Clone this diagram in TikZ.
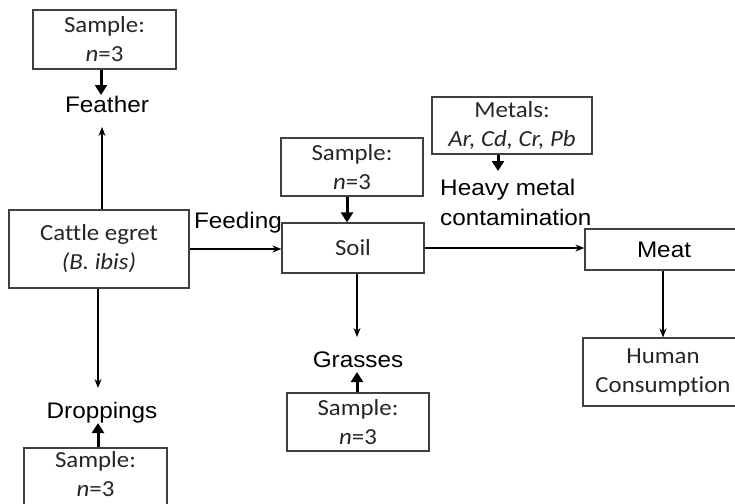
\documentclass[tikz,border=0pt]{standalone}
\usepackage{fontspec}
\setmainfont{Carlito}[FakeStretch=1.08,RawFeature=-liga]
\newfontfamily\arialfont{Liberation Sans}[FakeStretch=1.08]
\usetikzlibrary{arrows.meta}
\begin{document}
\begin{tikzpicture}[x=1pt,y=-1pt,
  box/.style={draw=black!75, line width=1.2pt, align=center, inner sep=0pt, text=black!85, font=\fontsize{23}{29}\selectfont},
  lab/.style={inner sep=0pt, text=black, font=\arialfont\fontsize{22.5}{30}\selectfont},
  thinarr/.style={-{Stealth[length=9pt,width=7pt]}, line width=1.4pt},
  thickarr/.style={-{Triangle[length=10pt,width=12pt]}, line width=3pt}]
\useasboundingbox (0,0) rectangle (735,503);
% boxes
\node[box, minimum width=143pt, minimum height=59pt] (sfeather) at (104.5,39.5) {Sample:\\\textit{n}=3};
\node[box, minimum width=180pt, minimum height=78pt] (egret) at (99,249) {Cattle egret\\\textit{(B. ibis)}};
\node[box, minimum width=143pt, minimum height=58pt, text depth=5pt] (sdrop) at (95.5,477) {Sample:\\\textit{n}=3};
\node[box, minimum width=142pt, minimum height=58pt] (ssoil) at (352,167) {Sample:\\\textit{n}=3};
\node[box, minimum width=142pt, minimum height=50pt] (soil) at (353,248) {Soil};
\node[box, minimum width=160pt, minimum height=57pt] (metals) at (512,125.5) {Metals:\\\textit{Ar, Cd, Cr, Pb}};
\node[box, minimum width=158pt, minimum height=41pt, font=\arialfont\fontsize{22.5}{29}\selectfont, text=black] (meat) at (664,249.5) {Meat};
\node[box, minimum width=160pt, minimum height=68pt] (hc) at (663,372) {Human\\Consumption};
\node[box, minimum width=142pt, minimum height=58pt] (sgrass) at (358,422) {Sample:\\\textit{n}=3};
% labels
\node[lab] (feather) at (107,104) {Feather};
\node[lab] (drop) at (102,413) {Droppings};
\node[lab] (grass) at (358,360) {Grasses};
\node[lab, anchor=south] (feeding) at (238,233) {Feeding};
\node[lab, anchor=west, align=left] (heavy) at (440,202) {Heavy metal\\contamination};
% arrow end points
\coordinate (t1) at (101,95);
\coordinate (t2) at (102,127);
\coordinate (t3) at (98,388);
\coordinate (t4) at (98,423);
\coordinate (t5) at (498,171);
\coordinate (t6) at (357,337);
\coordinate (t7) at (357,372);
\coordinate (c1) at (347,0);
\coordinate (c2) at (663,0);
% arrows
\draw[thickarr] (sfeather.south -| t1) -- (t1);
\draw[thinarr] (egret.north -| t2) -- (t2);
\draw[thinarr] (egret.south -| t3) -- (t3);
\draw[thickarr] (sdrop.north -| t4) -- (t4);
\draw[thinarr] (egret.east) -- (egret.east -| soil.west);
\draw[thickarr] (ssoil.south -| c1) -- (soil.north -| c1);
\draw[thinarr] (soil.east) -- (soil.east -| meat.west);
\draw[thickarr] (metals.south -| t5) -- (t5);
\draw[thinarr] (soil.south -| t6) -- (t6);
\draw[thickarr] (sgrass.north -| t7) -- (t7);
\draw[thinarr] (meat.south -| c2) -- (hc.north -| c2);
\end{tikzpicture}
\end{document}
